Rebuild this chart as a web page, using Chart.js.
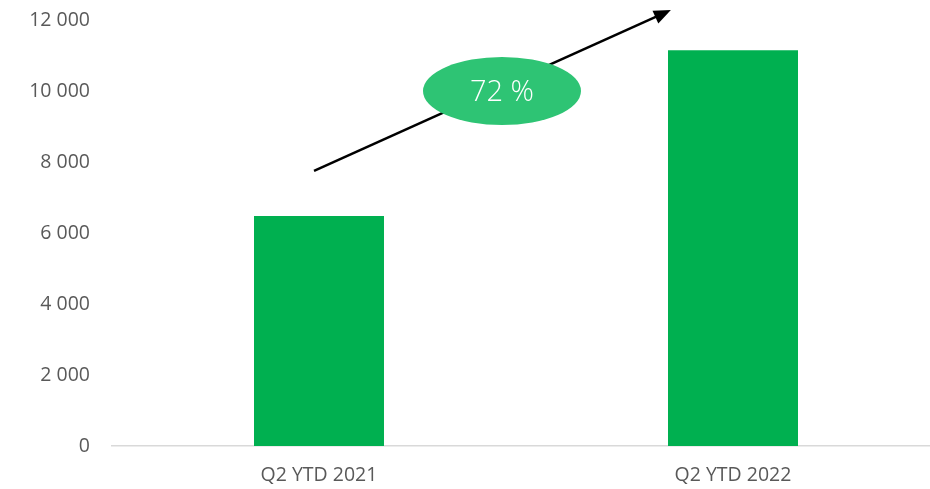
<!DOCTYPE html>
<html>
<head>
<meta charset="utf-8">
<script src="https://cdn.jsdelivr.net/npm/chart.js@4.4.0/dist/chart.umd.min.js"></script>
<style>
  html, body { margin: 0; padding: 0; background: #fff; overflow: hidden; }
  #wrap { width: 940px; height: 489px; }
</style>
</head>
<body>
<div id="wrap"><canvas id="myChart"></canvas></div>
<script>
const categories = ["Q2 YTD 2021", "Q2 YTD 2022"];
const values = [6480, 11150];
const yMin = 0;
const yMax = 12000;
const yStep = 2000;

// growth between the two periods, shown in the bubble
const growth = Math.round((values[1] / values[0] - 1) * 100);
const growthLabel = growth + " %";

// arrow and bubble positions in data units (x = category index, y = value)
const arrowFrom = { x: -0.012, y: 7750 };
const arrowTo = { x: 0.85, y: 12280 };
const bubbleAt = { x: 0.442, y: 10000 };

const fmt = (v) => String(v).replace(/\B(?=(\d{3})+(?!\d))/g, " ");

const growthArrow = {
  id: "growthArrow",
  afterDatasetsDraw(chart) {
    const { ctx, scales: { x, y } } = chart;
    const px = (p) => [x.getPixelForValue(p.x), y.getPixelForValue(p.y)];
    const [x1, y1] = px(arrowFrom);
    const [x2, y2] = px(arrowTo);
    const ang = Math.atan2(y2 - y1, x2 - x1);
    const headLen = 17, headW = 7;
    ctx.save();
    ctx.strokeStyle = "#000";
    ctx.fillStyle = "#000";
    ctx.lineWidth = 2.5;
    ctx.beginPath();
    ctx.moveTo(x1, y1);
    ctx.lineTo(x2 - Math.cos(ang) * headLen * 0.8, y2 - Math.sin(ang) * headLen * 0.8);
    ctx.stroke();
    const bx = x2 - Math.cos(ang) * headLen;
    const by = y2 - Math.sin(ang) * headLen;
    ctx.beginPath();
    ctx.moveTo(x2, y2);
    ctx.lineTo(bx + Math.sin(ang) * headW, by - Math.cos(ang) * headW);
    ctx.lineTo(bx - Math.sin(ang) * headW, by + Math.cos(ang) * headW);
    ctx.closePath();
    ctx.fill();

    const [cx, cy] = px(bubbleAt);
    ctx.fillStyle = "#2EC474";
    ctx.beginPath();
    ctx.ellipse(cx, cy, 79, 34, 0, 0, Math.PI * 2);
    ctx.fill();
    ctx.fillStyle = "#fff";
    ctx.font = "300 29px 'Open Sans', sans-serif";
    ctx.textAlign = "center";
    ctx.textBaseline = "middle";
    ctx.fillText(growthLabel, cx, cy + 2);
    ctx.restore();
  }
};

let ctx = document.getElementById("myChart");
let myChart = new Chart(ctx, {
  type: "bar",
  data: {
    labels: categories,
    datasets: [
      {
        data: values,
        backgroundColor: "#00B050",
        borderWidth: 0,
        categoryPercentage: 1,
        barPercentage: 0.314,
      },
    ],
  },
  options: {
    responsive: true,
    maintainAspectRatio: false,
    animation: false,
    layout: { padding: { top: 20, right: 0, bottom: 0, left: 0 } },
    plugins: {
      legend: { display: false },
      tooltip: { enabled: false },
    },
    scales: {
      x: {
        grid: { display: false, drawTicks: false },
        border: { display: true, color: "#D9D9D9", width: 1.5 },
        ticks: {
          color: "#595959",
          font: { family: "'Open Sans', sans-serif", size: 19.5 },
          padding: 18,
          maxRotation: 0,
        },
        afterFit: (scale) => { scale.height = 43; scale.paddingLeft = 0; scale.paddingRight = 0; },
      },
      y: {
        min: yMin,
        max: yMax,
        grid: { display: false, drawTicks: false },
        border: { display: false },
        ticks: {
          stepSize: yStep,
          color: "#595959",
          font: { family: "'Open Sans', sans-serif", size: 19.5 },
          padding: 22,
          callback: (v) => fmt(v),
        },
        afterFit: (scale) => { scale.width = 112; scale.paddingTop = 0; scale.paddingBottom = 0; },
      },
    },
  },
  plugins: [growthArrow],
});
</script>
</body>
</html>
